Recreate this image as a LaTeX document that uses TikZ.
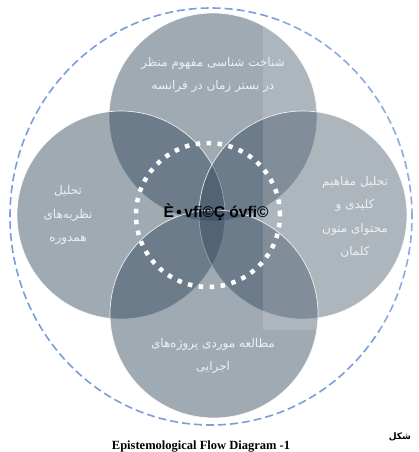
\documentclass[tikz,border=0pt]{standalone}
\usepackage{fontspec}
\usetikzlibrary{shapes.geometric}
\setmainfont{Liberation Serif}
\newfontfamily\arabicfont[Script=Arabic]{DejaVu Sans}
\newfontfamily\garbfont{Liberation Sans}
\TeXXeTstate=1
\definecolor{venn}{HTML}{31465B}
\definecolor{dashblue}{HTML}{7C9CDC}
\definecolor{vtext}{HTML}{EEF0F3}
\tikzset{
  vcircle/.style={circle, fill=venn, fill opacity=0.46, draw=white, draw opacity=0.85, line width=0.7pt, minimum size=208pt, inner sep=0pt},
  vlabel/.style={text=vtext, font=\arabicfont\fontsize{12}{23.5}\selectfont, align=center},
}
\begin{document}
\begin{tikzpicture}[x=1pt,y=-1pt]
\useasboundingbox (0,0) rectangle (419,452);
\fill[white] (0,0) rectangle (419,452);
% outer dashed ellipse
\node[ellipse, draw=dashblue, line width=1.6pt, dash pattern=on 8pt off 4pt, minimum width=402pt, minimum height=417pt, inner sep=0pt] (outer) at (211,216.5) {};
% venn circles
\node[vcircle] (top) at (213,117) {};
\node[vcircle] (left) at (121,215) {};
\node[vcircle] (right) at (303,215) {};
\node[vcircle] (bottom) at (214,314) {};
% watermark-like lighter panel
\fill[white, opacity=0.14] (263,20) rectangle (419,330);
% dotted center circle
\node[circle, draw=white, line width=4.5pt, dash pattern=on 4.5pt off 6.5pt, minimum size=144pt, inner sep=0pt] (core) at (208,215) {};
% labels
\node[vlabel] (ttop) at (213,75) {\beginR شناخت شناسی مفهوم منظر\endR\\\beginR در بستر زمان در فرانسه\endR};
\node[vlabel] (tleft) at (68,215) {\beginR تحلیل\endR\\\beginR نظریه‌های\endR\\\beginR همدوره\endR};
\node[vlabel] (tright) at (355,217) {\beginR تحلیل مفاهیم\endR\\\beginR کلیدی و\endR\\\beginR محتوای متون\endR\\\beginR کلمان\endR};
\node[vlabel] (tbottom) at (213,356) {\beginR مطالعه موردی پروژه‌های\endR\\\beginR اجرایی\endR};
\node[font=\garbfont\bfseries\fontsize{15.5}{17}\selectfont, text=black, inner sep=0pt] (center) at (216,212) {È\,•\,vﬁ©Ç óvﬁ©};
% caption
\node[font=\bfseries\fontsize{12.5}{14}\selectfont, inner sep=0pt] (cap) at (201,447) {Epistemological Flow Diagram -1};
\node[font=\arabicfont\bfseries\fontsize{9}{10}\selectfont, inner sep=0pt] (shekl) at (400,437) {\beginR شکل\endR};
\end{tikzpicture}
\end{document}
